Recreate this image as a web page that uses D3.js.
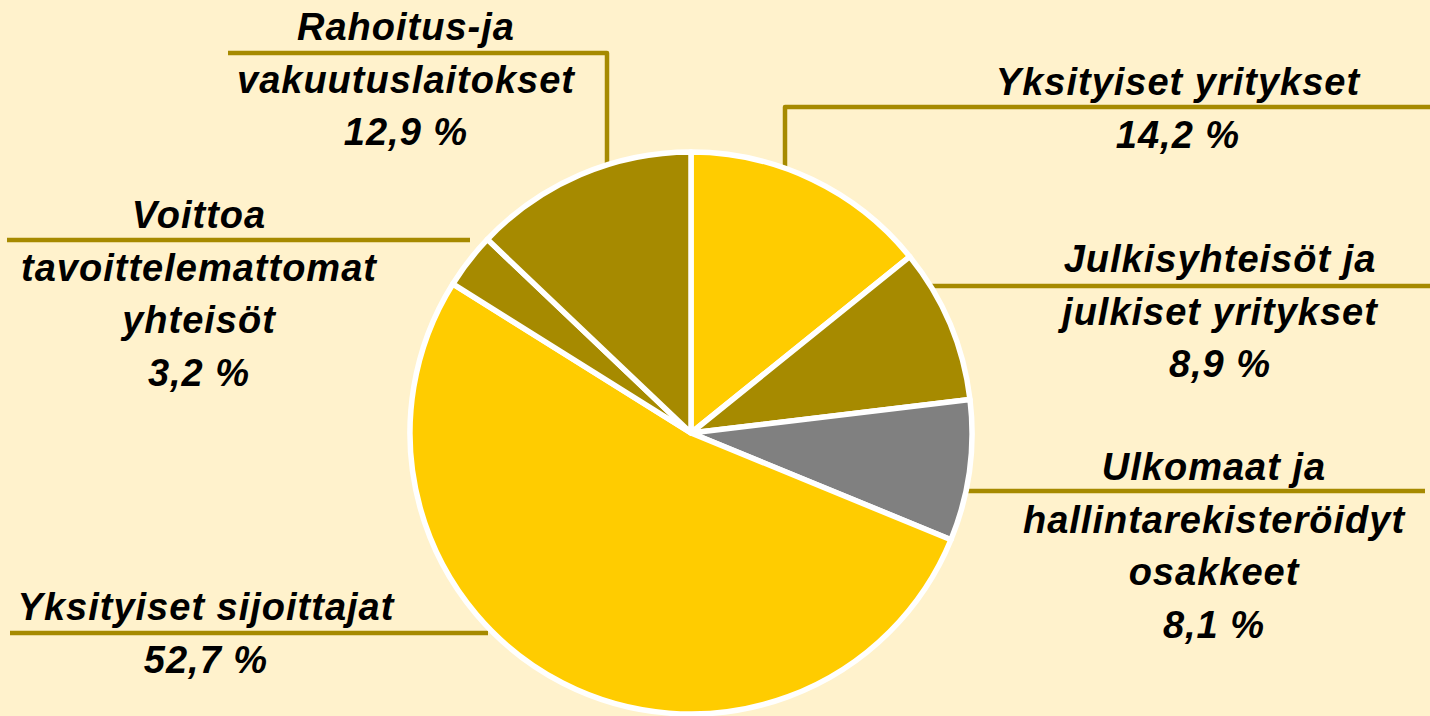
<!DOCTYPE html>
<html>
<head>
<meta charset="utf-8">
<script src="https://cdn.jsdelivr.net/npm/d3@7"></script>
<style>
  html, body { margin: 0; padding: 0; background: #FFF2CC; }
  svg { display: block; }
</style>
</head>
<body>
<div id="chart"></div>
<script>
// Data
const categories = [
  'Yksityiset yritykset',
  'Julkisyhteisöt ja julkiset yritykset',
  'Ulkomaat ja hallintarekisteröidyt osakkeet',
  'Yksityiset sijoittajat',
  'Voittoa tavoittelemattomat yhteisöt',
  'Rahoitus-ja vakuutuslaitokset'
]
const shares = [14.2, 8.9, 8.1, 52.7, 3.2, 12.9]
const sliceColors = ['#FFCC00', '#A68A00', '#808080', '#FFCC00', '#A68A00', '#A68A00']
const labelLines = [
  ['Yksityiset yritykset'],
  ['Julkisyhteisöt ja', 'julkiset yritykset'],
  ['Ulkomaat ja', 'hallintarekisteröidyt', 'osakkeet'],
  ['Yksityiset sijoittajat'],
  ['Voittoa', 'tavoittelemattomat', 'yhteisöt'],
  ['Rahoitus-ja', 'vakuutuslaitokset']
]

// Constants
const width = 1430
const height = 716
const cx = 691
const cy = 433
const radius = 281
const lineColor = '#A68A00'
const lineGap = 52.5

// label layout: text centre x, first baseline y, leader line y, far end x, elbow x (or null)
const layout = [
  { tx: 1178, ty: 95,  ly: 107, farX: 1432, elbowX: 785 },
  { tx: 1220, ty: 272, ly: 286, farX: 1432, elbowX: null },
  { tx: 1214, ty: 480, ly: 491, farX: 1425, elbowX: null },
  { tx: 206,  ty: 620, ly: 633, farX: 10,   elbowX: null, nearX: 488 },
  { tx: 199,  ty: 228, ly: 240, farX: 7,    elbowX: null, nearX: 470 },
  { tx: 406,  ty: 40,  ly: 53,  farX: 228,  elbowX: 607 }
]

const svg = d3.select('#chart')
  .append('svg')
  .attr('width', width)
  .attr('height', height)

svg.append('rect')
  .attr('width', width)
  .attr('height', height)
  .attr('fill', '#FFF2CC')

const data = categories.map((c, i) => ({ name: c, value: shares[i], i: i }))

const pie = d3.pie()
  .sort(null)
  .value(d => d.value)

const arc = d3.arc()
  .innerRadius(0)
  .outerRadius(radius)

// Leader lines (drawn under the pie)
const lineGroup = svg.append('g').attr('id', 'leaders')

const pieGroup = svg.append('g')
  .attr('transform', `translate(${cx}, ${cy})`)

pieGroup.selectAll('path')
  .data(pie(data))
  .enter()
  .append('path')
  .attr('d', arc)
  .attr('fill', d => sliceColors[d.data.i])
  .attr('stroke', '#FFFFFF')
  .attr('stroke-width', 5.5)
  .attr('stroke-linejoin', 'round')

// edge of the pie for a horizontal line at y, on the given side
const edgeX = (y, side) => cx + side * Math.sqrt(Math.max(0, radius * radius - (y - cy) * (y - cy)))
const edgeY = x => cy - Math.sqrt(Math.max(0, radius * radius - (x - cx) * (x - cx)))

layout.forEach((l, i) => {
  let pts
  if (l.elbowX !== null) {
    pts = [[l.farX, l.ly], [l.elbowX, l.ly], [l.elbowX, edgeY(l.elbowX) + 4]]
  } else {
    const side = l.farX > cx ? 1 : -1
    const nearX = l.nearX !== undefined ? l.nearX : edgeX(l.ly, side) - side * 4
    pts = [[l.farX, l.ly], [nearX, l.ly]]
  }
  lineGroup.append('path')
    .attr('d', d3.line()(pts))
    .attr('fill', 'none')
    .attr('stroke', lineColor)
    .attr('stroke-width', 4.5)
    .attr('stroke-linejoin', 'round')
})

// Labels
const labelGroup = svg.append('g').attr('id', 'labels')

layout.forEach((l, i) => {
  const lines = labelLines[i].concat([d3.format('.1f')(shares[i]).replace('.', ',') + ' %'])
  const text = labelGroup.append('text')
    .attr('x', l.tx)
    .attr('y', l.ty)
    .attr('text-anchor', 'middle')
    .style('font-family', '"Liberation Sans", Arial, sans-serif')
    .style('font-weight', 'bold')
    .style('font-style', 'italic')
    .style('font-size', '38px')
    .style('letter-spacing', '1px')
    .attr('fill', '#000000')
  lines.forEach((t, j) => {
    text.append('tspan')
      .attr('x', l.tx)
      .attr('y', l.ty + j * lineGap)
      .text(t)
  })
})
</script>
</body>
</html>
